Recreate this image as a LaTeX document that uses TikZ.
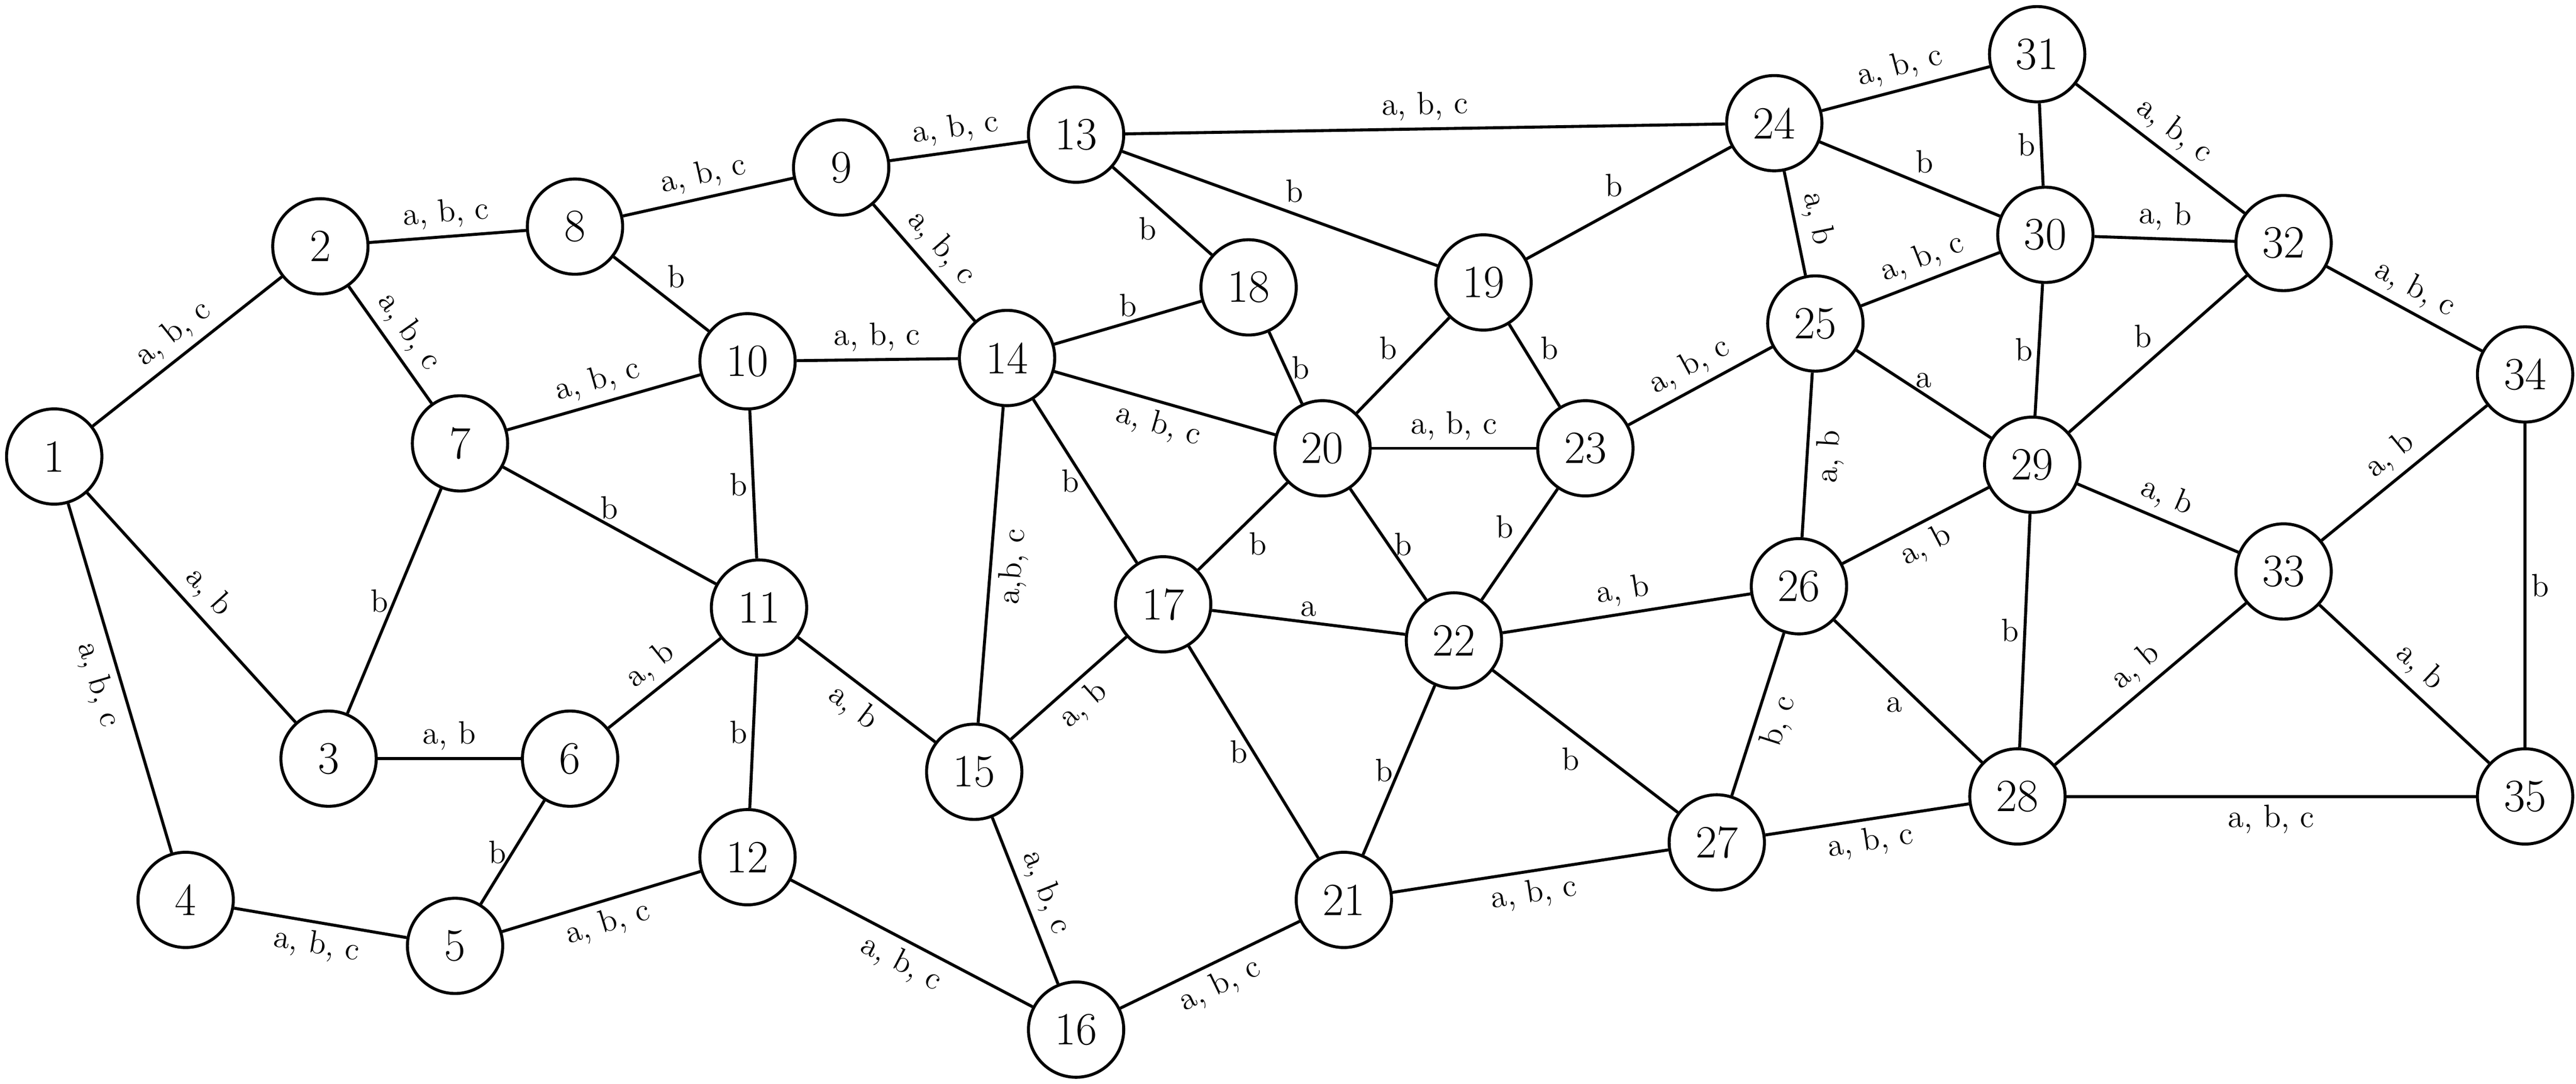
\documentclass[tikz,border=0pt]{standalone}
\begin{document}
\begin{tikzpicture}[x=0.025cm,y=-0.025cm,
 v/.style={circle,draw,line width=1.3pt,fill=white,minimum size=1.45cm,inner sep=0pt,font=\fontsize{20}{22}\selectfont},
 e/.style={line width=1.3pt},
 l/.style={midway,sloped,font=\fontsize{14}{16}\selectfont,inner sep=3pt},
 s/.style={midway,font=\fontsize{14}{16}\selectfont,inner sep=2pt}]
\useasboundingbox (0,0) rectangle (1568,660);
\foreach \n/\x/\y in {1/33/278,2/195/150,3/200/462,4/113/548,5/277/576,6/347/462,7/280/270,8/350/138,9/512/102,10/455/220,11/462/370,12/455/522,13/655/82,14/613/218,15/593/470,16/655/627,17/708/368,18/760/175,19/903/172,20/805/273,21/818/548,22/885/390,23/965/273,24/1080/75,25/1105/197,26/1095/357,27/1045/513,28/1228/485,29/1237/283,30/1245/143,31/1240/33,32/1390/148,33/1390/348,34/1537/228,35/1537/485}
 \node[v] (\n) at (\x,\y) {\n};
\foreach \a/\b/\t/\p in {1/2/{a, b, c}/above,1/3/{a, b}/above,1/4/{a, b, c}/below,2/8/{a, b, c}/above,2/7/{a, b, c}/above,
 3/6/{a, b}/above,4/5/{a, b, c}/below,5/12/{a, b, c}/below,6/11/{a, b}/above,7/10/{a, b, c}/above,
 8/9/{a, b, c}/above,9/13/{a, b, c}/above,9/14/{a, b, c}/above,10/14/{a, b, c}/above,
 11/15/{a, b}/below,12/16/{a, b, c}/below,13/24/{a, b, c}/above,
 14/20/{a, b, c}/below,15/14/{a,b, c}/below,15/17/{a, b}/below,16/15/{a, b, c}/above,
 16/21/{a, b, c}/below,20/23/{a, b, c}/above,21/27/{a, b, c}/below,22/26/{a, b}/above,
 23/25/{a, b, c}/above,24/31/{a, b, c}/above,24/25/{a, b}/above,25/30/{a, b, c}/above,
 26/25/{a, b}/below,26/29/{a, b}/below,27/26/{b, c}/below,27/28/{a, b, c}/below,28/33/{a, b}/above,
 28/35/{a, b, c}/below,29/33/{a, b}/above,30/32/{a, b}/above,31/32/{a, b, c}/above,
 32/34/{a, b, c}/above,33/34/{a, b}/above,33/35/{a, b}/above}
 \draw[e] (\a) -- node[l,\p] {\t} (\b);
\foreach \a/\b/\t/\p in {3/7/b/left,5/6/b/left,7/11/b/above,8/10/b/above right,11/10/b/left,12/11/b/left,
 13/18/b/below left,13/19/b/above right,14/18/b/above,14/17/b/left,17/20/b/below right,17/22/a/above,17/21/b/left,
 20/18/b/right,20/19/b/above left,19/23/b/above right,19/24/b/above left,20/22/b/right,21/22/b/left,22/23/b/above left,
 22/27/b/below left,24/30/b/above right,25/29/a/above,26/28/a/below left,28/29/b/left,29/30/b/left,29/32/b/above left,
 30/31/b/left,34/35/b/right}
 \draw[e] (\a) -- node[s,\p] {\t} (\b);
\end{tikzpicture}
\end{document}
